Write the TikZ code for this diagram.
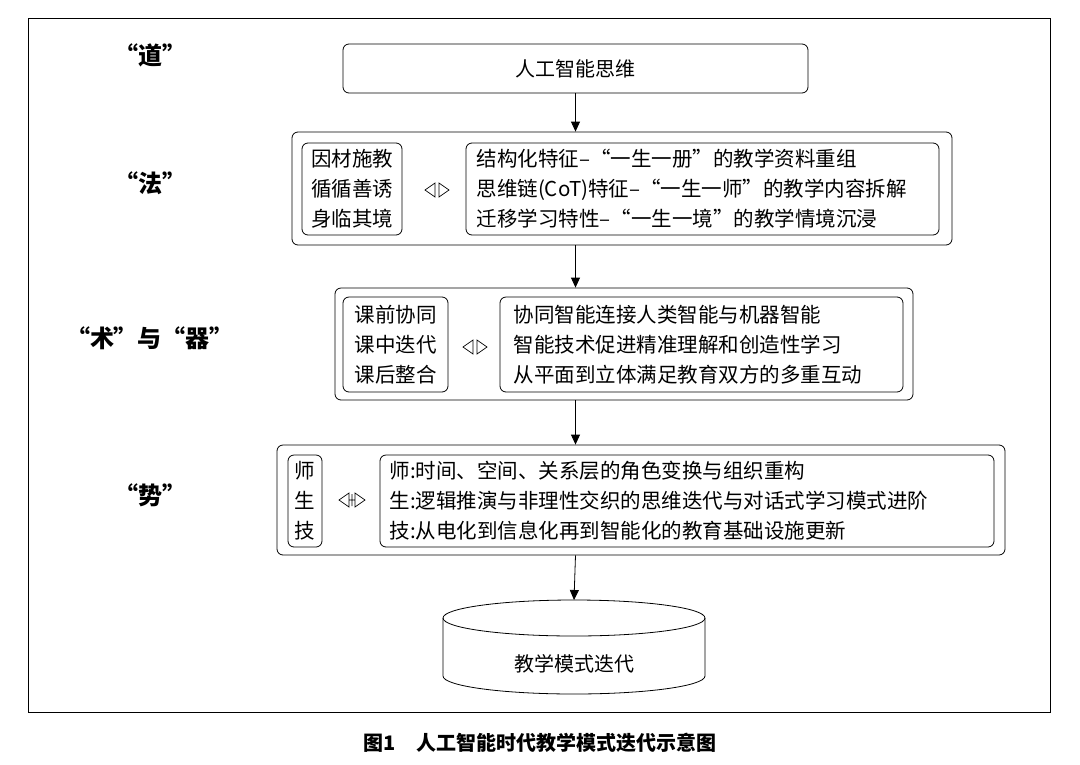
\documentclass[tikz,border=0pt]{standalone}
\usepackage{fontspec}
\setmainfont{Noto Sans CJK SC}
\usetikzlibrary{arrows.meta,calc}
\begin{document}
\begin{tikzpicture}[x=1pt,y=-1pt,
  box/.style={draw,rounded corners=6pt,line width=0.8pt,inner sep=0pt},
  txt/.style={align=left,font=\fontsize{20.5}{30}\selectfont,anchor=west},
  lab/.style={font=\fontsize{24}{26}\selectfont\bfseries},
  flow/.style={-{Triangle[length=10pt,width=9pt]},line width=0.8pt},
  tri/.style={line width=0.7pt,line join=miter}]
\useasboundingbox (0,0) rectangle (1080,764);
\draw[line width=0.8pt] (28,18) rectangle (1050,712);
\node[font=\fontsize{20}{22}\selectfont\bfseries] (cap) at (540,743) {图1\quad 人工智能时代教学模式迭代示意图};
\node[lab] (l1) at (150,55) {“道”};
\node[lab] (l2) at (150,183) {“法”};
\node[lab] (l3) at (150,338) {“术”与“器”};
\node[lab] (l4) at (150,495) {“势”};
% box 1
\node[box,minimum width=465pt,minimum height=49pt,font=\fontsize{20}{22}\selectfont] (b1) at (575.5,68.5) {人工智能思维};
% box 2
\node[box,minimum width=660pt,minimum height=113pt] (b2) at (622,188.5) {};
\node[box,minimum width=100pt,minimum height=92pt] (b2l) at (352,189) {};
\node[txt,anchor=center] at (b2l) {因材施教\\循循善诱\\身临其境};
\node[box,minimum width=473pt,minimum height=92pt] (b2r) at (702.5,189) {};
\node[txt] at (473,189) {结构化特征–“一生一册”的教学资料重组\\思维链(CoT)特征–“一生一师”的教学内容拆解\\迁移学习特性–“一生一境”的教学情境沉浸};
\coordinate (d2) at (437,190);
\draw[tri] ($(d2)+(-12,0)$) -- ($(d2)+(-2,-7)$) -- ($(d2)+(-2,7)$) -- cycle
           ($(d2)+(12,0)$) -- ($(d2)+(2,-7)$) -- ($(d2)+(2,7)$) -- cycle;
% box 3
\node[box,minimum width=578pt,minimum height=112pt] (b3) at (624,344) {};
\node[box,minimum width=105pt,minimum height=95pt] (b3l) at (395.5,344.5) {};
\node[txt,anchor=center] at (b3l) {课前协同\\课中迭代\\课后整合};
\node[box,minimum width=403pt,minimum height=95pt] (b3r) at (701.5,344.5) {};
\node[txt] at (510,344.5) {协同智能连接人类智能与机器智能\\智能技术促进精准理解和创造性学习\\从平面到立体满足教育双方的多重互动};
\coordinate (d3) at (475,347);
\draw[tri] ($(d3)+(-12,0)$) -- ($(d3)+(-2,-7)$) -- ($(d3)+(-2,7)$) -- cycle
           ($(d3)+(12,0)$) -- ($(d3)+(2,-7)$) -- ($(d3)+(2,7)$) -- cycle;
% box 4
\node[box,minimum width=728pt,minimum height=110pt] (b4) at (641,500) {};
\node[box,minimum width=34pt,minimum height=92pt] (b4l) at (305,501) {};
\node[txt,anchor=center] at (b4l) {师\\生\\技};
\node[box,minimum width=614pt,minimum height=92pt] (b4r) at (687,501) {};
\node[txt] at (386,501) {师:时间、空间、关系层的角色变换与组织重构\\生:逻辑推演与非理性交织的思维迭代与对话式学习模式进阶\\技:从电化到信息化再到智能化的教育基础设施更新};
\coordinate (d4) at (352,500);
\draw[tri] ($(d4)+(-13,0)$) -- ($(d4)+(-3,-7)$) -- ($(d4)+(-3,7)$) -- cycle
           ($(d4)+(13,0)$) -- ($(d4)+(3,-7)$) -- ($(d4)+(3,7)$) -- cycle
           ($(d4)+(-3,0)$) -- ($(d4)+(3,0)$)
           ($(d4)+(0,-6)$) -- ($(d4)+(0,6)$);
% cylinder
\draw[line width=0.8pt,fill=white] (443,618) -- (443,676) arc[start angle=180,end angle=360,x radius=131,y radius=-18] -- (705,618);
\draw[line width=0.8pt] (574,618) ellipse[x radius=131,y radius=18];
\node[font=\fontsize{20}{22}\selectfont] (cyl) at (574,664) {教学模式迭代};
\coordinate (cyltop) at (574,600);
% arrows
\draw[flow] (b1.south) -- (b2.north -| b1.south);
\draw[flow] (b2.south -| b1.south) -- (b3.north -| b1.south);
\draw[flow] (b3.south -| b1.south) -- (b4.north -| b1.south);
\draw[flow] (b4.south -| b1.south) -- (cyltop);
\end{tikzpicture}
\end{document}
